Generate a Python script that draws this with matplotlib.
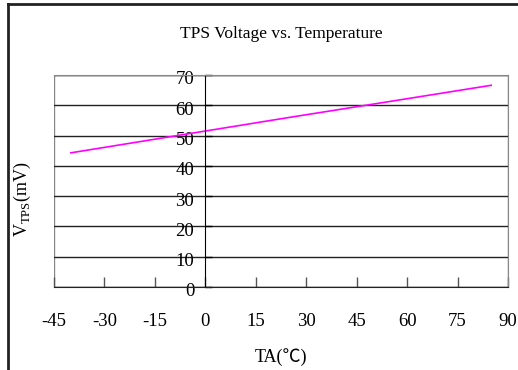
import matplotlib.pyplot as plt
import matplotlib.transforms as mtransforms
from matplotlib.patches import Rectangle
from matplotlib.lines import Line2D

# data
temps = [-40, 0, 25, 50, 85]
vtps = [44.3, 51.5, 56.0, 60.4, 66.6]
xticks = [-45, -30, -15, 0, 15, 30, 45, 60, 75, 90]
yticks = [0, 10, 20, 30, 40, 50, 60, 70]

plt.rcParams['font.family'] = ['Liberation Serif', 'Noto Sans CJK SC', 'DejaVu Sans']
plt.rcParams['mathtext.fontset'] = 'custom'
plt.rcParams['mathtext.rm'] = 'Liberation Serif'
plt.rcParams['axes.unicode_minus'] = False

fig = plt.figure(figsize=(5.18, 3.70), dpi=100)
ax = fig.add_axes([54/518, 1 - 287/370, 454/518, 212/370])

ax.plot(temps, vtps, color='#ff00ff', lw=1.2)

ax.set_xlim(-45, 90)
ax.set_ylim(0, 70)
ax.set_xticks(xticks)
ax.set_yticks(yticks)

# y axis crosses at x = 0
ax.spines['left'].set_position(('data', 0))
ax.spines['left'].set_color('black')
ax.spines['bottom'].set_color('#222222')
ax.spines['top'].set_color('#888888')
ax.spines['right'].set_color('#888888')
ax.add_patch(Rectangle((0, 0), 1, 1, transform=ax.transAxes, fill=False,
                       edgecolor='#888888', lw=1, zorder=0.5))

ax.yaxis.grid(True, color='#222222', lw=1)
ax.set_axisbelow(True)

ax.tick_params(axis='y', direction='in', length=5, width=1, pad=8, labelsize=13.5)
ax.tick_params(axis='x', direction='in', length=7, width=1, pad=19, labelsize=13.5,
               color='#555555')
shift = mtransforms.ScaledTranslation(0, -3/100, fig.dpi_scale_trans)
for lbl in ax.get_yticklabels():
    lbl.set_transform(lbl.get_transform() + shift)

fig.text(281/518, 1 - 34/370, 'TPS Voltage vs. Temperature', ha='center', va='center',
         fontsize=12.5)
fig.text(281/518, 1 - 357/370, 'TA(℃)', ha='center', va='center', fontsize=13,
         family=['Liberation Serif', 'Noto Sans CJK SC'])
fig.text(22/518, 1 - 199/370, r'V$_{\mathrm{TPS}}$(mV)', rotation=90, ha='center',
         va='center', fontsize=13)

# outer frame of the picture
fig.add_artist(Line2D([8/518, 8/518], [0, 1 - 4/370], color='#222222', lw=2,
                      transform=fig.transFigure))
fig.add_artist(Line2D([8/518, 1], [1 - 4/370, 1 - 4/370], color='#222222', lw=2,
                      transform=fig.transFigure))

fig.savefig('out.png', dpi=100)
